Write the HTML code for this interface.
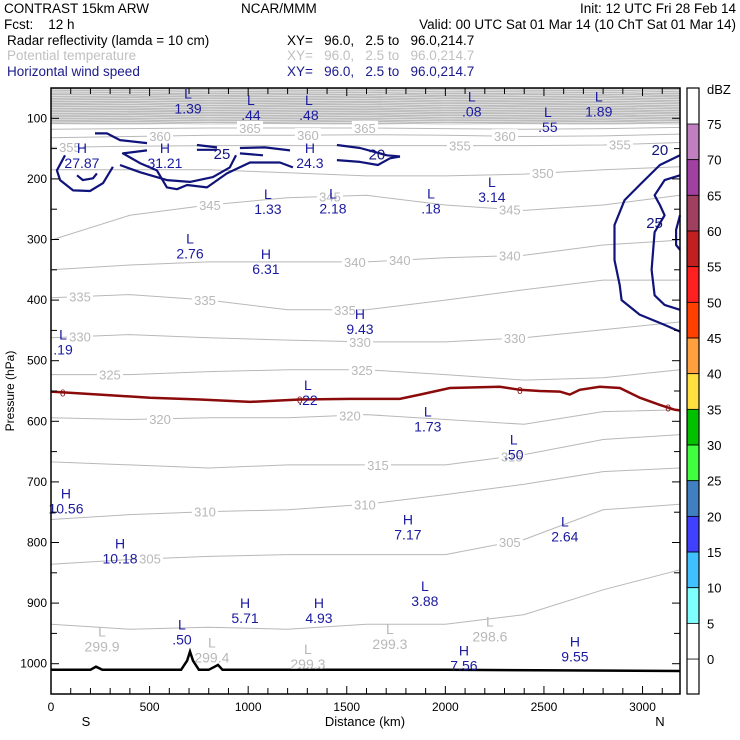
<!DOCTYPE html>
<html><head><meta charset="utf-8"><style>
body{margin:0;background:#fff;}
svg{display:block;font-family:"Liberation Sans",sans-serif;}
#hdr text{white-space:pre;}
</style></head><body>
<svg id="chart" width="740" height="740" viewBox="0 0 740 740">
<g id="hdr" font-size="13.5">
<text x="4" y="13">CONTRAST 15km ARW</text>
<text x="241" y="13">NCAR/MMM</text>
<text x="736" y="13" text-anchor="end">Init: 12 UTC Fri 28 Feb 14</text>
<text x="4" y="29">Fcst:    12 h</text>
<text x="736" y="29" text-anchor="end">Valid: 00 UTC Sat 01 Mar 14 (10 ChT Sat 01 Mar 14)</text>
<text x="7" y="45">Radar reflectivity (lamda = 10 cm)</text>
<text x="287" y="45">XY=   96.0,   2.5 to   96.0,214.7</text>
<text x="7" y="60" fill="#c0c0c0">Potential temperature</text>
<text x="287" y="60" fill="#c0c0c0">XY=   96.0,   2.5 to   96.0,214.7</text>
<text x="7" y="76" fill="#1a1a8c">Horizontal wind speed</text>
<text x="287" y="76" fill="#1a1a8c">XY=   96.0,   2.5 to   96.0,214.7</text>
</g>
<g id="plot"></g>
<g id="cbar"></g>
</svg>
<script>
const NS="http://www.w3.org/2000/svg";
// ---- data ----
const distKm=[0,400,800,1200,1600,2000,2400,2800,3190];
const thetaLevels=[365,360,355,350,345,340,335,330,325,320,315,310,305,300];
const thetaP=[
[118,117,116,116,116,117,118,117,115],
[132,130,128,128,127,128,130,129,126],
[148,146,145,145,145,145,145,144,140],
[185,185,185,190,195,195,192,185,180],
[301,260,243,231,227,243,252,243,227],
[350,342,337,337,337,330,326,309,301],
[396,391,400,416,416,400,383,367,367],
[462,457,462,466,469,469,462,449,436],
[523,523,518,515,515,523,532,528,515],
[594,597,594,594,589,597,605,584,581],
[667,672,677,672,672,672,655,630,622],
[762,754,749,746,737,721,704,683,677],
[836,828,823,820,820,820,795,746,737],
[935,943,940,943,935,935,919,878,845]];
const thetaLabelLevel=[365,365,360,360,360,355,355,355,350,345,345,345,340,340,340,335,335,335,330,330,330,325,325,320,320,315,315,310,310,305,305];
const thetaLabelKm=[1009,1592,553,1303,2302,96,2074,2885,2494,806,1415,2327,1541,1769,2327,147,781,1491,147,1567,2352,299,1577,553,1516,1658,2337,781,1592,502,2327];
const upperLevels=[370,375,380,385,390,395,400,405,410,415,420,425,430,435,440,445];
const upperBaseP=[110,106,102,98,94,90,86,82,78,74,70,66,62,58,55,52];
const windKm=[
[71,30,46,112,198,264,314],
[132,162,213,233],
[223,284,350,487],
[487,365,451,537,588,639,690,791,892,1009,1161,1227],
[350,451,588,705,821,907,938],
[740,842],[740,842],
[958,1085,1212],[958,1075],
[1450,1567,1704,1770],
[1450,1567,1658,1719,1770],
[3190,3088,2985,2909,2858,2858,2884,2894,2985,3112,3190],
[3190,3112,3061,3088,3112,3061,3046,3061,3112,3190],
[3190,3170,3170,3190]];
const windP=[
[161,186,202,219,220,207,180],
[194,202,199,191],
[125,125,136,141],
[153,158,174,186,214,217,210,214,191,173,173,181],
[177,189,202,205,197,181,161],
[144,148],[152,152],
[149,148,153],[158,161],
[144,149,161,163],
[169,172,177,166,163],
[161,177,210,235,276,334,375,400,424,441,452],
[194,202,227,243,260,288,350,392,408,416],
[260,284,309,317]];
const windLabels=["25","20","20","25"];
const windLabelKm=[867,1653,3088,3061];
const windLabelP=[157,158,151,271];
const freezeKm=[0,248,502,755,1009,1262,1516,1769,1871,2023,2276,2378,2479,2581,2631,2682,2783,2885,2986,3088,3164,3190];
const freezeP=[551,556,561,564,568,564,563,563,556,545,543,548,550,551,556,548,543,545,561,573,581,582];
const terrainKm=[0,200,228,260,660,690,705,720,750,800,830,847,870,900,2000,2600,3190];
const terrainP=[1010,1010,1005,1010,1010,995,980,995,1010,1010,1005,1002,1010,1010,1010,1011,1012];
const extType=["L","L","L","L","L","L","H","H","H","L","L","L","L","L","H","H","L","L","L","L","H","H","L","H","L","H","H","L","H","H"];
const extVal=["1.39",".44",".48",".08",".55","1.89","27.87","31.21","24.3","1.33","2.18",".18","3.14","2.76","6.31","9.43",".19",".22","1.73",".50","10.56","7.17","2.64","10.18","3.88","5.71","4.93",".50","7.56","9.55"];
const extKm=[695,1014,1308,2134,2520,2778,157,578,1313,1100,1430,1927,2236,705,1090,1567,61,1303,1911,2347,76,1810,2606,350,1896,984,1359,664,2094,2657];
const extP=[59,70,70,64,90,64,149,149,149,225,224,224,205,298,324,423,457,540,584,630,719,762,765,802,872,900,900,935,978,963];
const thetaMinVal=["299.9","299.4","299.3","299.3","298.6"];
const thetaMinKm=[259,816,1303,1719,2226];
const thetaMinP=[947,965,976,943,930];
const xTicks=[0,500,1000,1500,2000,2500,3000];
const yTicks=[100,200,300,400,500,600,700,800,900,1000];
const dbzLevels=[75,70,65,60,55,50,45,40,35,30,25,20,15,10,5,0];
const dbzColors=["#c080c0","#a040a0","#a04060","#c02020","#ff2020","#ff4000","#ffa040","#ffe040","#00c000","#40ff40","#4080c0","#4040ff","#40c0ff","#80ffff","#ffffff"];
// ---- axes ----
const X0=51,X1=680,Y0=88,Y1=694;
const kmMax=3190,pTop=50,pBot=1050;
const xs=k=>X0+(k/kmMax)*(X1-X0);
const ys=p=>Y0+(p-pTop)/(pBot-pTop)*(Y1-Y0);
const plot=document.getElementById('plot');
function mk(tag,attrs,parent){const e=document.createElementNS(NS,tag);for(const k in attrs)e.setAttribute(k,attrs[k]);(parent||plot).appendChild(e);return e;}
function pathFrom(km,p){return km.map((k,i)=>(i?'L':'M')+xs(k).toFixed(1)+','+ys(p[i]).toFixed(1)).join('');}
function interp(km,arr,k){for(let i=0;i<km.length-1;i++){if(k>=km[i]&&k<=km[i+1]){const t=(k-km[i])/(km[i+1]-km[i]);return arr[i]+t*(arr[i+1]-arr[i]);}}return arr[arr.length-1];}

let bg=mk('rect',{x:X0,y:Y0,width:X1-X0,height:ys(110)-Y0,fill:'#bcbcbc'});


upperLevels.forEach((lv,i)=>{
  const p=upperBaseP[i];
  const e=mk('path',{d:pathFrom(distKm,distKm.map((k,j)=>p+[0,1,-1,0,1,-1,0,1,-1][j]*1.2)),fill:'none',stroke:'#ffffff','stroke-width':0.6,'stroke-opacity':0.8});
  
  
});
thetaLevels.forEach((lv,i)=>{
  const e=mk('path',{d:pathFrom(distKm,thetaP[i]),fill:'none',stroke:'#b8b8b8','stroke-width':1});
  
  
});
thetaLabelLevel.forEach((lv,i)=>{
  const idx=thetaLevels.indexOf(lv);
  const k=thetaLabelKm[i];const p=interp(distKm,thetaP[idx],k);
  const bx=mk('rect',{x:xs(k)-13,y:ys(p)-7,width:26,height:13,fill:'#fff'});
  
  
  const t=mk('text',{x:xs(k),y:ys(p)+5,'text-anchor':'middle','font-size':13,fill:'#b8b8b8'});
  t.textContent=lv;
  
  
});
(()=>{
  const e=mk('path',{d:pathFrom(freezeKm,freezeP),fill:'none',stroke:'#8b0a0a','stroke-width':2.5});
  
  
  [60,1262,2378,3130].forEach(k=>{const t=mk('text',{x:xs(k),y:ys(interp(freezeKm,freezeP,k))+4,'text-anchor':'middle','font-size':10,fill:'#8b0a0a'});t.textContent='0';
  
  });
})();
windKm.forEach((km,i)=>{
  const e=mk('path',{d:pathFrom(km,windP[i]),fill:'none',stroke:'#10147a','stroke-width':2.2,'stroke-linejoin':'round'});
  
  
});
windLabels.forEach((w,i)=>{
  const t=mk('text',{x:xs(windLabelKm[i]),y:ys(windLabelP[i])+6,'text-anchor':'middle','font-size':15,fill:'#10147a'});
  t.textContent=w;
  
  
});
const terr=mk('path',{d:pathFrom(terrainKm,terrainP),fill:'none',stroke:'#000','stroke-width':2.5});


extType.forEach((ty,i)=>{
  const x=xs(extKm[i]),y=ys(extP[i]);
  const a=mk('text',{x:x,y:y+5,'text-anchor':'middle','font-size':14,fill:'#1a1aa0'});a.textContent=ty;
  
  
  const b=mk('text',{x:x,y:y+20,'text-anchor':'middle','font-size':14,fill:'#1a1aa0'});b.textContent=extVal[i];
  
  
});
thetaMinVal.forEach((v,i)=>{
  const x=xs(thetaMinKm[i]),y=ys(thetaMinP[i]);
  const a=mk('text',{x:x,y:y+5,'text-anchor':'middle','font-size':14,fill:'#b8b8b8'});a.textContent='L';
  
  
  const b=mk('text',{x:x,y:y+20,'text-anchor':'middle','font-size':14,fill:'#b8b8b8'});b.textContent=v;
  
  
});
// frame and ticks
const fr=mk('rect',{x:X0,y:Y0,width:X1-X0,height:Y1-Y0,fill:'none',stroke:'#000','stroke-width':1.5});


for(let k=0;k<=kmMax;k+=100){const L=(k%500===0)?8:6;
  const a=mk('line',{x1:xs(k),x2:xs(k),y1:Y1,y2:Y1-L,stroke:'#000'});
  const b=mk('line',{x1:xs(k),x2:xs(k),y1:Y0,y2:Y0+L,stroke:'#000'});}
for(let p=100;p<=1050;p+=50){const L=(p%100===0)?8:6;
  const a=mk('line',{x1:X0,x2:X0+L,y1:ys(p),y2:ys(p),stroke:'#000'});
  const b=mk('line',{x1:X1,x2:X1-L,y1:ys(p),y2:ys(p),stroke:'#000'});}
xTicks.forEach(k=>{const t=mk('text',{x:xs(k),y:711,'text-anchor':'middle','font-size':12});t.textContent=k;
  });
yTicks.forEach(p=>{const t=mk('text',{x:X0-4,y:ys(p)+4,'text-anchor':'end','font-size':12});t.textContent=p;
  });
let t=mk('text',{x:365,y:726,'text-anchor':'middle','font-size':13});t.textContent='Distance (km)';

t=mk('text',{x:86,y:726,'text-anchor':'middle','font-size':13});t.textContent='S';

t=mk('text',{x:660,y:726,'text-anchor':'middle','font-size':13});t.textContent='N';

t=mk('text',{x:14,y:391,'text-anchor':'middle','font-size':12,transform:'rotate(-90 14 391)'});t.textContent='Pressure (hPa)';

// colorbar
const cb=document.getElementById('cbar');
const CX=687,CW=12;
const cy=v=>124+(75-v)/5*35.67;
let r=mk('rect',{x:CX,y:88,width:CW,height:Y1-88,fill:'#fff',stroke:'#000'},cb);

dbzColors.forEach((c,i)=>{
  const e=mk('rect',{x:CX,y:cy(dbzLevels[i]),width:CW,height:cy(dbzLevels[i+1])-cy(dbzLevels[i]),fill:c,stroke:'#000','stroke-width':0.8},cb);
  
  
});
r=mk('rect',{x:CX,y:88,width:CW,height:Y1-88,fill:'none',stroke:'#000','stroke-width':1.2},cb);

dbzLevels.forEach(v=>{const e=mk('text',{x:707,y:cy(v)+5,'font-size':13},cb);e.textContent=v;
  });
t=mk('text',{x:707,y:94,'font-size':13},cb);t.textContent='dBZ';

</script>
</body></html>
